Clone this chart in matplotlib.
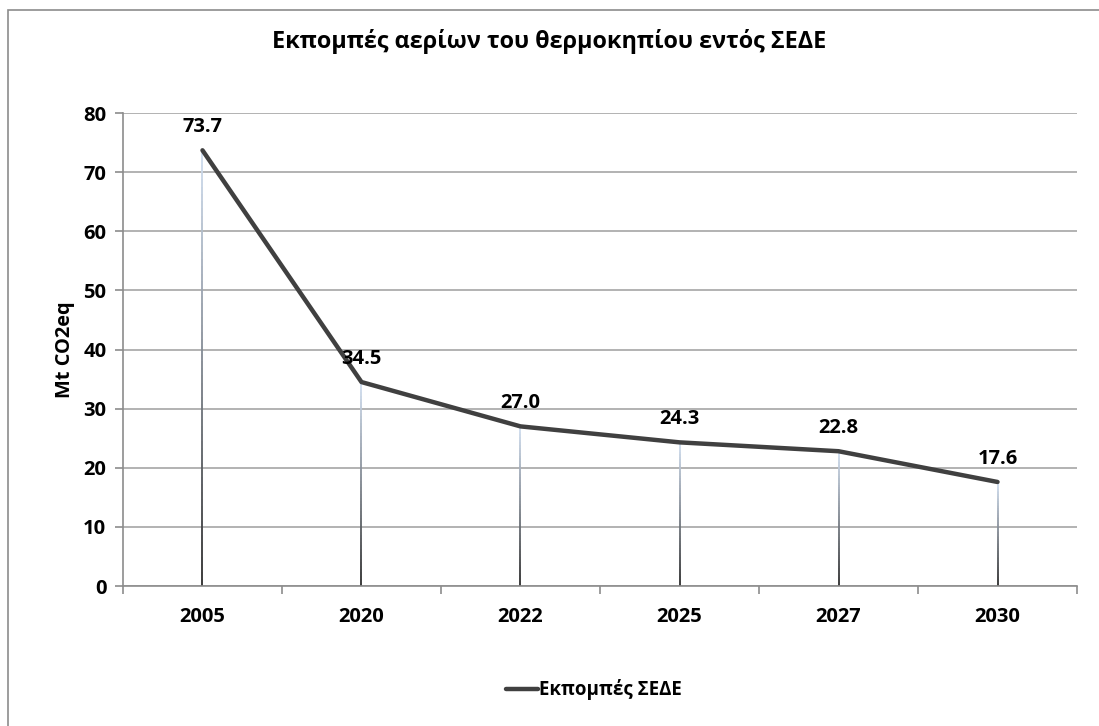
import numpy as np
import matplotlib
matplotlib.use("Agg")
import matplotlib.pyplot as plt
from matplotlib.collections import LineCollection
from matplotlib.patches import Rectangle
from matplotlib.colors import to_rgb

plt.rcParams['font.family'] = ['Open Sans', 'DejaVu Sans']

years = ['2005', '2020', '2022', '2025', '2027', '2030']
emissions = [73.7, 34.5, 27.0, 24.3, 22.8, 17.6]
series_name = 'Εκπομπές ΣΕΔΕ'
title = 'Εκπομπές αερίων του θερμοκηπίου εντός ΣΕΔΕ'
ylabel = 'Mt CO2eq'

fig = plt.figure(figsize=(10.99, 7.26), dpi=100)
ax = fig.add_axes([0.1119, 0.1928, 0.8681, 0.6515])

# frame round the whole chart (right and bottom edges fall outside)
fig.patches.append(Rectangle((8 / 1099, -0.1), 1.2, 1 - 10 / 726 + 0.1,
                             transform=fig.transFigure, fill=False,
                             edgecolor='#8c8c8c', lw=1.2))

x = np.arange(len(years))

# drop lines with a gradient, dark at the bottom, pale blue at the top
dark = np.array(to_rgb('#2b2b2b'))
light = np.array(to_rgb('#d0def0'))
segs, cols = [], []
n = 60
for xi, v in zip(x, emissions):
    ys = np.linspace(0, v, n + 1)
    for k in range(n):
        segs.append([(xi, ys[k]), (xi, ys[k + 1])])
        t = k / (n - 1)
        cols.append(dark * (1 - t) + light * t)
ax.add_collection(LineCollection(segs, colors=cols, linewidths=1.3, zorder=2))

line, = ax.plot(x, emissions, color='#404040', lw=3.2, zorder=3,
                solid_capstyle='round', label=series_name)

for xi, v in zip(x, emissions):
    ax.annotate(f'{v:.1f}', (xi, v), xytext=(0, 16.5), textcoords='offset points',
                ha='center', va='center', fontsize=14.5, fontweight='bold')

ax.set_xlim(-0.5, len(years) - 0.5)
ax.set_ylim(0, 80)
ax.set_yticks(range(0, 81, 10))
ax.set_xticks(x)
ax.set_xticklabels(years)
ax.set_xticks(np.arange(-0.5, len(years), 1), minor=True)
ax.tick_params(axis='x', which='major', length=0, pad=15)
ax.tick_params(axis='x', which='minor', length=6, color='#8c8c8c', width=1.2)
ax.tick_params(axis='y', length=6, color='#8c8c8c', width=1.2, pad=6)
for lab in ax.get_xticklabels() + ax.get_yticklabels():
    lab.set_fontsize(14.5)
    lab.set_fontweight('bold')

ax.grid(axis='y', color='#a6a6a6', lw=1.2, zorder=0)
ax.set_axisbelow(True)
for s in ['top', 'right']:
    ax.spines[s].set_visible(False)
for s in ['left', 'bottom']:
    ax.spines[s].set_color('#8c8c8c')
    ax.spines[s].set_linewidth(1.2)

ax.set_ylabel(ylabel, fontsize=14.4, fontweight='bold', labelpad=6)
fig.text(0.5, 1 - 42 / 726, title, ha='center', va='center',
         fontsize=16.8, fontweight='bold')

fig.legend(handles=[line], loc='center', bbox_to_anchor=(594 / 1099, 1 - 690 / 726),
           frameon=False, handlelength=1.7, handletextpad=0.05,
           prop={'weight': 'bold', 'size': 13.5})

fig.savefig('out.png', dpi=100)
